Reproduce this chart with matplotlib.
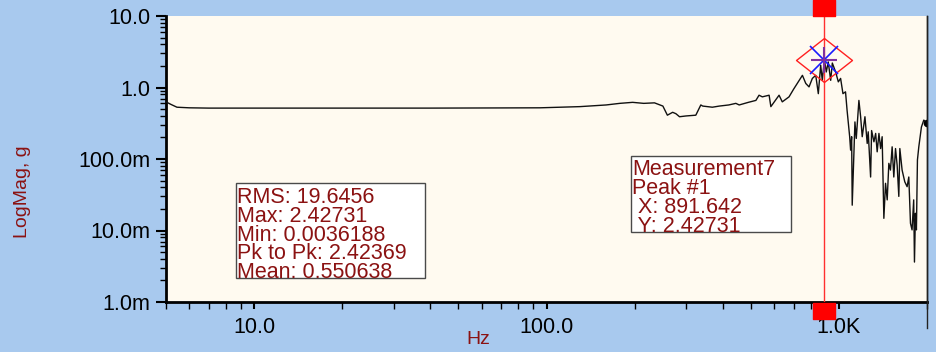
import numpy as np
import matplotlib
matplotlib.use('Agg')
import matplotlib.pyplot as plt
from matplotlib.path import Path
from matplotlib.patches import Rectangle
from matplotlib.lines import Line2D
from matplotlib.transforms import offset_copy

# --- data (frequency in Hz, magnitude in g) ---
freq = [5.0, 5.2, 5.45, 6.0, 7.0, 10.0, 20.0, 40.0, 70.0, 95.0, 130.0, 160.0,
        178.0, 197.0, 215.0, 234.0, 250.0, 259.0, 270.0, 277.0, 285.0, 300.0,
        324.0, 337.0, 342.0, 369.0, 390.0, 420.0, 444.0, 456.0, 490.0, 520.0,
        533.0, 547.0, 577.0, 585.0, 624.0, 640.0, 675.0, 700.0, 750.0, 770.0,
        790.0, 811.0, 833.0, 850.0, 866.0, 877.0, 891.642, 905.0, 919.0,
        937.0, 949.0, 974.0, 995.0, 1013.0, 1032.0, 1053.0, 1066.0, 1088.0,
        1096.0, 1105.0, 1110.0, 1134.0, 1146.0, 1170.0, 1186.0, 1201.0, 1227.0,
        1249.0, 1259.0, 1283.0, 1293.0, 1317.0, 1335.0, 1351.0, 1370.0, 1388.0,
        1405.0, 1424.0, 1443.0, 1462.0, 1481.0, 1500.0, 1520.0, 1540.0, 1561.0,
        1581.0, 1602.0, 1615.0, 1644.0, 1679.0, 1710.0, 1733.0, 1756.0, 1778.0,
        1801.0, 1812.0, 1826.0, 1840.0, 1855.0, 1875.0, 1914.0, 1950.0, 1996.0]
mag = [0.63, 0.58, 0.53, 0.52, 0.515, 0.515, 0.515, 0.515, 0.518, 0.52, 0.54,
       0.57, 0.6, 0.62, 0.6, 0.61, 0.55, 0.41, 0.45, 0.43, 0.39, 0.40,
       0.41, 0.57, 0.55, 0.53, 0.55, 0.57, 0.6, 0.57, 0.62, 0.66,
       0.78, 0.74, 0.78, 0.54, 0.78, 0.63, 0.74, 0.95, 1.48, 1.14,
       1.02, 1.34, 1.48, 0.82, 2.05, 1.26, 2.42731, 1.65, 2.28,
       1.26, 2.2, 1.65, 1.2, 1.34, 0.82, 0.87, 0.48, 0.205,
       0.133, 0.205, 0.0226, 0.33, 0.194, 0.66, 0.39, 0.205, 0.39,
       0.165, 0.24, 0.056, 0.25, 0.174, 0.228, 0.126, 0.228, 0.14,
       0.205, 0.0148, 0.0457, 0.0268, 0.087, 0.07, 0.148, 0.056, 0.14,
       0.082, 0.03, 0.14, 0.07, 0.048, 0.041, 0.056, 0.0126, 0.0102,
       0.0268, 0.0036188, 0.0174, 0.0102, 0.097, 0.148, 0.28, 0.35, 0.32]

peak_x = 891.642
peak_y = 2.42731

stats_lines = ["RMS: 19.6456", "Max: 2.42731", "Min: 0.0036188",
               "Pk to Pk: 2.42369", "Mean: 0.550638"]
peak_lines = ["Measurement7", "Peak #1", " X: 891.642", " Y: 2.42731"]

yticks = [1e-3, 1e-2, 1e-1, 1.0, 10.0]
ytick_labels = ["1.0m", "10.0m", "100.0m", "1.0", "10.0"]
xticks = [10.0, 100.0, 1000.0]
xtick_labels = ["10.0", "100.0", "1.0K"]

BLUE = '#a8c9ee'
CREAM = '#fffaf0'
DARKRED = '#8b1212'
W, H = 937, 352

plt.rcParams['font.family'] = ['Liberation Sans', 'DejaVu Sans']

fig = plt.figure(figsize=(W / 100, H / 100), dpi=100, facecolor=BLUE)
# axes box in pixels: left 166, right 927, top 16, bottom 302
ax = fig.add_axes([166 / W, (H - 302) / H, (927 - 166) / W, (302 - 16) / H])
ax.set_facecolor(CREAM)
ax.set_xscale('log')
ax.set_yscale('log')
ax.set_xlim(5.0, 2000.0)
ax.set_ylim(1e-3, 10.0)

ax.plot(freq, mag, color='#111111', lw=1.0, zorder=3)
ax.plot(freq[-1], mag[-1], 'o', color='black', ms=4.5, zorder=4)

# spines
ax.spines['top'].set_visible(False)
ax.spines['left'].set_linewidth(2.0)
ax.spines['bottom'].set_linewidth(2.0)
ax.spines['right'].set_linewidth(1.0)

ax.set_yticks(yticks, labels=ytick_labels)
ax.set_xticks(xticks, labels=xtick_labels)
ax.tick_params(axis='y', which='major', length=7, width=1.5, direction='out',
               labelsize=15.5, pad=4)
ax.tick_params(axis='y', which='minor', length=4, width=1.0, direction='out')
ax.tick_params(axis='x', which='major', length=5, width=1.5, direction='out',
               labelsize=15.5, pad=6)
ax.tick_params(axis='x', which='minor', length=5, width=1.0, direction='out')
ax.xaxis.set_minor_formatter(matplotlib.ticker.NullFormatter())
ax.yaxis.set_minor_formatter(matplotlib.ticker.NullFormatter())

fig.text(23 / W, 1 - 192 / H, "LogMag, g", rotation=90, color=DARKRED,
         fontsize=14, ha='center', va='center')
fig.text(478 / W, 1 - 340 / H, "Hz", color=DARKRED, fontsize=14,
         ha='center', va='center')

# cursor line and handles
ax.axvline(peak_x, color='#ff3030', lw=1.0, zorder=5)
rect_marker = Path([(-11, -8), (11, -8), (11, 8), (-11, 8), (-11, -8)], closed=True)
top_tr = offset_copy(ax.get_xaxis_transform(), fig=fig, x=0, y=8, units='dots')
bot_tr = offset_copy(ax.get_xaxis_transform(), fig=fig, x=0, y=-9, units='dots')
ax.plot([peak_x], [1.0], marker=rect_marker, ms=15.8, color='#ff0000',
        mec='#ff0000', transform=top_tr, clip_on=False, zorder=10)
ax.plot([peak_x], [0.0], marker=rect_marker, ms=15.8, color='#ff0000',
        mec='#ff0000', transform=bot_tr, clip_on=False, zorder=10)

# peak marker: diamond, blue x, purple +
diamond = Path([(-28, 0), (0, 22), (28, 0), (0, -22), (-28, 0)], closed=True)
ax.plot([peak_x], [peak_y], marker=diamond, ms=40.3, mfc='none', mec='#ff2020',
        mew=1.0, zorder=6)
ax.plot([peak_x], [peak_y], marker='x', ms=20, mec='#1a1aff', mew=1.2, zorder=7)
ax.plot([peak_x], [peak_y], marker='+', ms=19, mec='#8030a0', mew=1.5, zorder=8)

# right edge line extending below the axis
fig.add_artist(Line2D([927 / W, 927 / W], [1 - 16 / H, 1 - 328 / H],
                      color='#222222', lw=1.0, transform=fig.transFigure))


def info_box(x0, y0, x1, y1, lines, top_y, spacing, tx):
    fig.add_artist(Rectangle((x0 / W, 1 - y1 / H), (x1 - x0) / W, (y1 - y0) / H,
                             transform=fig.transFigure, facecolor='white',
                             edgecolor='#4a4a4a', lw=1.0, zorder=20))
    fig.text(tx / W, 1 - top_y / H, "\n".join(lines), color=DARKRED,
             fontsize=15.5, ha='left', va='top', linespacing=spacing, zorder=21)


info_box(236, 183, 425, 278, stats_lines, 187, 0.86, 237)
info_box(631, 156, 791, 232, peak_lines, 159, 0.865, 632)

fig.savefig('out.png', dpi=100, facecolor=BLUE)
